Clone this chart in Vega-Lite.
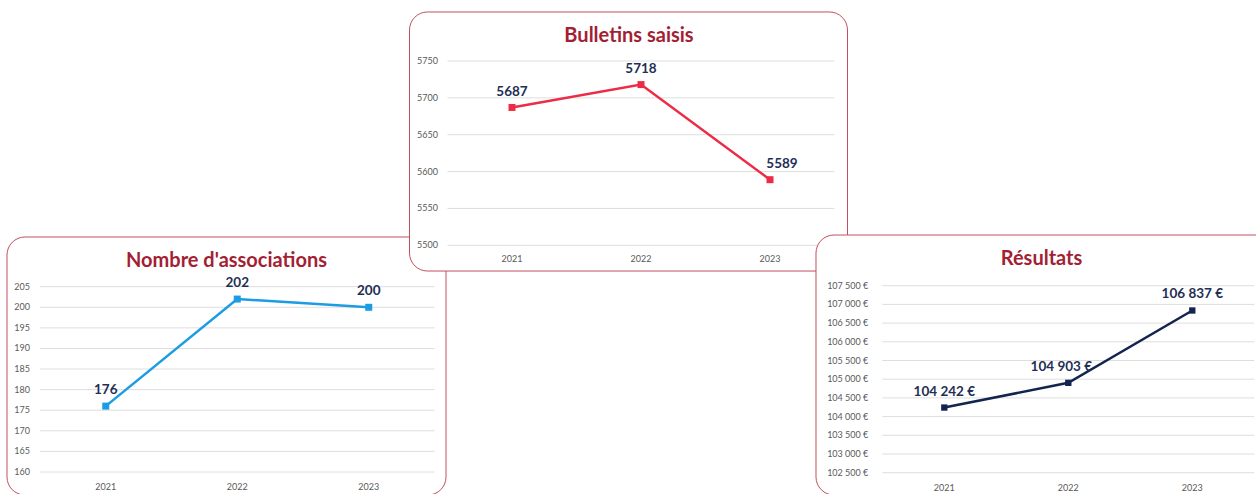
{
  "$schema": "https://vega.github.io/schema/vega-lite/v6.json",
  "width": 1256,
  "height": 494,
  "autosize": {"type": "none"},
  "padding": 0,
  "background": "white",
  "config": {
    "view": {"stroke": null},
    "font": "Lato",
    "locale": {"number": {"decimal": ",", "thousands": " ", "grouping": [3], "currency": ["", " €"]}}
  },
  "datasets": {
    "bulletins": [{"year": 2021, "value": 5687}, {"year": 2022, "value": 5718}, {"year": 2023, "value": 5589}],
    "bulletins_grid": [{"value": 5500}, {"value": 5550}, {"value": 5600}, {"value": 5650}, {"value": 5700}, {"value": 5750}],
    "assoc": [{"year": 2021, "value": 176}, {"year": 2022, "value": 202}, {"year": 2023, "value": 200}],
    "assoc_grid": [{"value": 160}, {"value": 165}, {"value": 170}, {"value": 175}, {"value": 180}, {"value": 185}, {"value": 190}, {"value": 195}, {"value": 200}, {"value": 205}],
    "resultats": [{"year": 2021, "value": 104242}, {"year": 2022, "value": 104903}, {"year": 2023, "value": 106837}],
    "resultats_grid": [{"value": 102500}, {"value": 103000}, {"value": 103500}, {"value": 104000}, {"value": 104500}, {"value": 105000}, {"value": 105500}, {"value": 106000}, {"value": 106500}, {"value": 107000}, {"value": 107500}]
  },
  "resolve": {"scale": {"x": "independent", "y": "independent"}, "axis": {"x": "independent", "y": "independent"}},
  "layer": [
    {
      "layer": [
        {
          "data": {"values": [{"panel": "Nombre d'associations"}]},
          "mark": {"type": "rect", "fill": "white", "stroke": "#c0505f", "strokeWidth": 1, "cornerRadius": 18},
          "encoding": {
            "x": {"datum": 2020.249, "type": "quantitative", "scale": {"domain": [2020.5, 2023.5], "range": [40, 434.5], "zero": false, "nice": false}, "axis": null},
            "x2": {"datum": 2023.5875},
            "y": {"datum": 217.07, "type": "quantitative", "scale": {"domain": [160, 205], "range": [472, 286.7], "zero": false, "nice": false}, "axis": null},
            "y2": {"datum": 154.41}
          }
        },
        {
          "data": {"name": "assoc_grid"},
          "mark": {"type": "rule", "color": "#dedede", "strokeWidth": 1},
          "encoding": {
            "x": {"datum": 2020.5, "type": "quantitative", "scale": {"domain": [2020.5, 2023.5], "range": [40, 434.5], "zero": false, "nice": false}, "axis": null},
            "x2": {"datum": 2023.5},
            "y": {"field": "value", "type": "quantitative", "scale": {"domain": [160, 205], "range": [472, 286.7], "zero": false, "nice": false}, "axis": null}
          }
        },
        {
          "data": {"name": "assoc_grid"},
          "mark": {"type": "text", "font": "Lato", "fontSize": 9, "color": "#595959", "align": "right", "baseline": "middle", "dx": -10},
          "encoding": {
            "x": {"datum": 2020.5, "type": "quantitative", "scale": {"domain": [2020.5, 2023.5], "range": [40, 434.5], "zero": false, "nice": false}, "axis": null},
            "y": {"field": "value", "type": "quantitative", "scale": {"domain": [160, 205], "range": [472, 286.7], "zero": false, "nice": false}, "axis": null},
            "text": {"field": "value", "type": "quantitative", "format": "d"}
          }
        },
        {
          "data": {"name": "assoc"},
          "mark": {"type": "text", "font": "Lato", "fontSize": 9, "color": "#595959", "align": "center", "baseline": "top", "dy": 11},
          "encoding": {
            "x": {"field": "year", "type": "quantitative", "scale": {"domain": [2020.5, 2023.5], "range": [40, 434.5], "zero": false, "nice": false}, "axis": null},
            "y": {"datum": 160, "type": "quantitative", "scale": {"domain": [160, 205], "range": [472, 286.7], "zero": false, "nice": false}, "axis": null},
            "text": {"field": "year", "type": "quantitative", "format": "d"}
          }
        },
        {
          "data": {"values": [{"panel": "Nombre d'associations"}]},
          "mark": {"type": "text", "font": "Lato", "fontSize": 20, "fontWeight": "bold", "color": "#a31f34", "align": "center", "baseline": "alphabetic"},
          "encoding": {
            "x": {"datum": 2021.918, "type": "quantitative", "scale": {"domain": [2020.5, 2023.5], "range": [40, 434.5], "zero": false, "nice": false}, "axis": null},
            "y": {"datum": 209.85, "type": "quantitative", "scale": {"domain": [160, 205], "range": [472, 286.7], "zero": false, "nice": false}, "axis": null},
            "text": {"field": "panel"}
          }
        },
        {
          "data": {"name": "assoc"},
          "mark": {"type": "line", "color": "#1b9ce3", "strokeWidth": 2.5},
          "encoding": {
            "x": {"field": "year", "type": "quantitative", "scale": {"domain": [2020.5, 2023.5], "range": [40, 434.5], "zero": false, "nice": false}, "axis": null},
            "y": {"field": "value", "type": "quantitative", "scale": {"domain": [160, 205], "range": [472, 286.7], "zero": false, "nice": false}, "axis": null}
          }
        },
        {
          "data": {"name": "assoc"},
          "mark": {"type": "point", "shape": "square", "filled": true, "size": 49, "color": "#1b9ce3", "opacity": 1},
          "encoding": {
            "x": {"field": "year", "type": "quantitative", "scale": {"domain": [2020.5, 2023.5], "range": [40, 434.5], "zero": false, "nice": false}, "axis": null},
            "y": {"field": "value", "type": "quantitative", "scale": {"domain": [160, 205], "range": [472, 286.7], "zero": false, "nice": false}, "axis": null}
          }
        },
        {
          "data": {"name": "assoc"},
          "mark": {"type": "text", "font": "Lato", "fontSize": 13.5, "fontWeight": "bold", "color": "#1f2f55", "align": "center", "baseline": "alphabetic", "dy": -12},
          "encoding": {
            "x": {"field": "year", "type": "quantitative", "scale": {"domain": [2020.5, 2023.5], "range": [40, 434.5], "zero": false, "nice": false}, "axis": null},
            "y": {"field": "value", "type": "quantitative", "scale": {"domain": [160, 205], "range": [472, 286.7], "zero": false, "nice": false}, "axis": null},
            "text": {"field": "value", "type": "quantitative", "format": "d"}
          }
        }
      ]
    },
    {
      "layer": [
        {
          "data": {"values": [{"panel": "Bulletins saisis"}]},
          "mark": {"type": "rect", "fill": "white", "stroke": "#c0505f", "strokeWidth": 1, "cornerRadius": 18},
          "encoding": {
            "x": {"datum": 2020.2054, "type": "quantitative", "scale": {"domain": [2020.5, 2023.5], "range": [447.5, 834.5], "zero": false, "nice": false}, "axis": null},
            "x2": {"datum": 2023.6008},
            "y": {"datum": 5816.5, "type": "quantitative", "scale": {"domain": [5500, 5750], "range": [245.3, 61], "zero": false, "nice": false}, "axis": null},
            "y2": {"datum": 5465.1}
          }
        },
        {
          "data": {"name": "bulletins_grid"},
          "mark": {"type": "rule", "color": "#dedede", "strokeWidth": 1},
          "encoding": {
            "x": {"datum": 2020.5, "type": "quantitative", "scale": {"domain": [2020.5, 2023.5], "range": [447.5, 834.5], "zero": false, "nice": false}, "axis": null},
            "x2": {"datum": 2023.5},
            "y": {"field": "value", "type": "quantitative", "scale": {"domain": [5500, 5750], "range": [245.3, 61], "zero": false, "nice": false}, "axis": null}
          }
        },
        {
          "data": {"name": "bulletins_grid"},
          "mark": {"type": "text", "font": "Lato", "fontSize": 9, "color": "#595959", "align": "right", "baseline": "middle", "dx": -9.5},
          "encoding": {
            "x": {"datum": 2020.5, "type": "quantitative", "scale": {"domain": [2020.5, 2023.5], "range": [447.5, 834.5], "zero": false, "nice": false}, "axis": null},
            "y": {"field": "value", "type": "quantitative", "scale": {"domain": [5500, 5750], "range": [245.3, 61], "zero": false, "nice": false}, "axis": null},
            "text": {"field": "value", "type": "quantitative", "format": "d"}
          }
        },
        {
          "data": {"name": "bulletins"},
          "mark": {"type": "text", "font": "Lato", "fontSize": 9, "color": "#595959", "align": "center", "baseline": "top", "dy": 9.5},
          "encoding": {
            "x": {"field": "year", "type": "quantitative", "scale": {"domain": [2020.5, 2023.5], "range": [447.5, 834.5], "zero": false, "nice": false}, "axis": null},
            "y": {"datum": 5500, "type": "quantitative", "scale": {"domain": [5500, 5750], "range": [245.3, 61], "zero": false, "nice": false}, "axis": null},
            "text": {"field": "year", "type": "quantitative", "format": "d"}
          }
        },
        {
          "data": {"values": [{"panel": "Bulletins saisis"}]},
          "mark": {"type": "text", "font": "Lato", "fontSize": 20, "fontWeight": "bold", "color": "#a31f34", "align": "center", "baseline": "alphabetic"},
          "encoding": {
            "x": {"datum": 2021.907, "type": "quantitative", "scale": {"domain": [2020.5, 2023.5], "range": [447.5, 834.5], "zero": false, "nice": false}, "axis": null},
            "y": {"datum": 5776.2, "type": "quantitative", "scale": {"domain": [5500, 5750], "range": [245.3, 61], "zero": false, "nice": false}, "axis": null},
            "text": {"field": "panel"}
          }
        },
        {
          "data": {"name": "bulletins"},
          "mark": {"type": "line", "color": "#ee2b47", "strokeWidth": 2.5},
          "encoding": {
            "x": {"field": "year", "type": "quantitative", "scale": {"domain": [2020.5, 2023.5], "range": [447.5, 834.5], "zero": false, "nice": false}, "axis": null},
            "y": {"field": "value", "type": "quantitative", "scale": {"domain": [5500, 5750], "range": [245.3, 61], "zero": false, "nice": false}, "axis": null}
          }
        },
        {
          "data": {"name": "bulletins"},
          "mark": {"type": "point", "shape": "square", "filled": true, "size": 49, "color": "#ee2b47", "opacity": 1},
          "encoding": {
            "x": {"field": "year", "type": "quantitative", "scale": {"domain": [2020.5, 2023.5], "range": [447.5, 834.5], "zero": false, "nice": false}, "axis": null},
            "y": {"field": "value", "type": "quantitative", "scale": {"domain": [5500, 5750], "range": [245.3, 61], "zero": false, "nice": false}, "axis": null}
          }
        },
        {
          "data": {"name": "bulletins"},
          "mark": {"type": "text", "font": "Lato", "fontSize": 13.5, "fontWeight": "bold", "color": "#1f2f55", "align": "center", "baseline": "alphabetic", "dy": -11.5, "dx": {"expr": "datum.year === 2023 ? 12 : 0"}},
          "encoding": {
            "x": {"field": "year", "type": "quantitative", "scale": {"domain": [2020.5, 2023.5], "range": [447.5, 834.5], "zero": false, "nice": false}, "axis": null},
            "y": {"field": "value", "type": "quantitative", "scale": {"domain": [5500, 5750], "range": [245.3, 61], "zero": false, "nice": false}, "axis": null},
            "text": {"field": "value", "type": "quantitative", "format": "d"}
          }
        }
      ]
    },
    {
      "layer": [
        {
          "data": {"values": [{"panel": "Résultats"}]},
          "mark": {"type": "rect", "fill": "white", "stroke": "#c0505f", "strokeWidth": 1, "cornerRadius": 18},
          "encoding": {
            "x": {"datum": 2019.9653, "type": "quantitative", "scale": {"domain": [2020.5, 2023.5], "range": [882.3, 1254.3], "zero": false, "nice": false}, "axis": null},
            "x2": {"datum": 2023.667},
            "y": {"datum": 108855.6, "type": "quantitative", "scale": {"domain": [102500, 107500], "range": [472.7, 285.7], "zero": false, "nice": false}, "axis": null},
            "y2": {"datum": 101903.7}
          }
        },
        {
          "data": {"name": "resultats_grid"},
          "mark": {"type": "rule", "color": "#dedede", "strokeWidth": 1},
          "encoding": {
            "x": {"datum": 2020.5, "type": "quantitative", "scale": {"domain": [2020.5, 2023.5], "range": [882.3, 1254.3], "zero": false, "nice": false}, "axis": null},
            "x2": {"datum": 2023.5},
            "y": {"field": "value", "type": "quantitative", "scale": {"domain": [102500, 107500], "range": [472.7, 285.7], "zero": false, "nice": false}, "axis": null}
          }
        },
        {
          "data": {"name": "resultats_grid"},
          "mark": {"type": "text", "font": "Lato", "fontSize": 9, "color": "#595959", "align": "right", "baseline": "middle", "dx": -14},
          "encoding": {
            "x": {"datum": 2020.5, "type": "quantitative", "scale": {"domain": [2020.5, 2023.5], "range": [882.3, 1254.3], "zero": false, "nice": false}, "axis": null},
            "y": {"field": "value", "type": "quantitative", "scale": {"domain": [102500, 107500], "range": [472.7, 285.7], "zero": false, "nice": false}, "axis": null},
            "text": {"field": "value", "type": "quantitative", "format": "$,.0f"}
          }
        },
        {
          "data": {"name": "resultats"},
          "mark": {"type": "text", "font": "Lato", "fontSize": 9, "color": "#595959", "align": "center", "baseline": "top", "dy": 11},
          "encoding": {
            "x": {"field": "year", "type": "quantitative", "scale": {"domain": [2020.5, 2023.5], "range": [882.3, 1254.3], "zero": false, "nice": false}, "axis": null},
            "y": {"datum": 102500, "type": "quantitative", "scale": {"domain": [102500, 107500], "range": [472.7, 285.7], "zero": false, "nice": false}, "axis": null},
            "text": {"field": "year", "type": "quantitative", "format": "d"}
          }
        },
        {
          "data": {"values": [{"panel": "Résultats"}]},
          "mark": {"type": "text", "font": "Lato", "fontSize": 20, "fontWeight": "bold", "color": "#a31f34", "align": "center", "baseline": "alphabetic"},
          "encoding": {
            "x": {"datum": 2021.784, "type": "quantitative", "scale": {"domain": [2020.5, 2023.5], "range": [882.3, 1254.3], "zero": false, "nice": false}, "axis": null},
            "y": {"datum": 108061.5, "type": "quantitative", "scale": {"domain": [102500, 107500], "range": [472.7, 285.7], "zero": false, "nice": false}, "axis": null},
            "text": {"field": "panel"}
          }
        },
        {
          "data": {"name": "resultats"},
          "mark": {"type": "line", "color": "#13244f", "strokeWidth": 2.5},
          "encoding": {
            "x": {"field": "year", "type": "quantitative", "scale": {"domain": [2020.5, 2023.5], "range": [882.3, 1254.3], "zero": false, "nice": false}, "axis": null},
            "y": {"field": "value", "type": "quantitative", "scale": {"domain": [102500, 107500], "range": [472.7, 285.7], "zero": false, "nice": false}, "axis": null}
          }
        },
        {
          "data": {"name": "resultats"},
          "mark": {"type": "point", "shape": "square", "filled": true, "size": 40, "color": "#13244f", "opacity": 1},
          "encoding": {
            "x": {"field": "year", "type": "quantitative", "scale": {"domain": [2020.5, 2023.5], "range": [882.3, 1254.3], "zero": false, "nice": false}, "axis": null},
            "y": {"field": "value", "type": "quantitative", "scale": {"domain": [102500, 107500], "range": [472.7, 285.7], "zero": false, "nice": false}, "axis": null}
          }
        },
        {
          "data": {"name": "resultats"},
          "mark": {"type": "text", "font": "Lato", "fontSize": 13.5, "fontWeight": "bold", "color": "#1f2f55", "align": "center", "baseline": "alphabetic", "dy": -12, "dx": {"expr": "datum.year === 2022 ? -7 : 0"}},
          "encoding": {
            "x": {"field": "year", "type": "quantitative", "scale": {"domain": [2020.5, 2023.5], "range": [882.3, 1254.3], "zero": false, "nice": false}, "axis": null},
            "y": {"field": "value", "type": "quantitative", "scale": {"domain": [102500, 107500], "range": [472.7, 285.7], "zero": false, "nice": false}, "axis": null},
            "text": {"field": "value", "type": "quantitative", "format": "$,.0f"}
          }
        }
      ]
    }
  ]
}
